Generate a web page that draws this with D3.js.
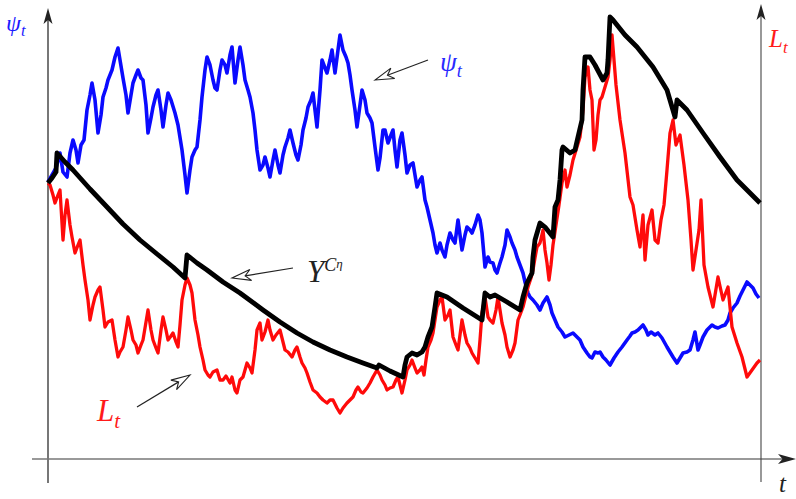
<!DOCTYPE html>
<html>
<head>
    <meta charset="utf-8">
    <title>psi-L-Y paths</title>
    <script type="text/javascript" src="https://cdn.jsdelivr.net/npm/d3@7"></script>
    <style type="text/css">
        body { margin: 0; background: #fff; }
        svg { display: block; }
        text { font-family: "Liberation Serif", "DejaVu Serif", serif; font-style: italic; }
    </style>
</head>
<body>
<div id="app"></div>

<script type="text/javascript">
    // time runs 0..713 along the bottom, level is height above the t-axis
    const psiPath = [[0,277],[4,284],[8,291],[12,306],[15,287],[19,282],[22,306],[25,319],[28,309],[30,296],[33,314],[36,319],[39,349],[42,364],[44,376],[47,359],[50,326],[53,344],[55,362],[58,371],[60,379],[64,389],[67,402],[70,411],[72,399],[75,381],[78,364],[80,346],[83,364],[85,376],[88,384],[90,389],[93,381],[95,379],[98,354],[100,326],[103,341],[105,352],[108,364],[110,369],[113,349],[115,332],[118,354],[120,366],[123,359],[127,346],[130,334],[134,309],[137,284],[139,266],[142,289],[144,302],[147,309],[149,312],[152,339],[154,362],[157,389],[159,402],[162,394],[165,379],[167,371],[169,369],[172,389],[174,399],[177,394],[179,386],[182,404],[184,412],[187,376],[190,399],[192,412],[195,394],[197,379],[200,369],[202,362],[205,346],[207,329],[209,309],[212,289],[215,294],[217,302],[220,291],[222,282],[225,299],[227,309],[230,294],[232,286],[235,304],[237,312],[240,321],[242,329],[245,316],[248,304],[250,299],[253,314],[255,329],[258,341],[260,352],[263,359],[265,366],[267,349],[269,332],[272,369],[274,399],[277,391],[279,386],[282,399],[284,409],[287,386],[290,409],[292,424],[295,409],[298,402],[300,396],[302,384],[304,369],[307,349],[309,332],[312,354],[314,369],[317,359],[319,346],[322,341],[324,336],[327,312],[330,289],[332,301],[335,329],[337,329],[340,316],[343,324],[345,329],[347,309],[349,292],[352,319],[354,326],[357,304],[359,286],[362,294],[365,296],[367,284],[369,272],[372,279],[374,282],[377,259],[379,252],[382,239],[385,226],[387,214],[389,206],[392,216],[394,209],[397,202],[399,214],[402,226],[405,219],[407,216],[410,239],[412,224],[414,209],[417,224],[419,232],[422,229],[424,226],[427,234],[430,244],[432,239],[434,226],[437,192],[440,202],[442,197],[445,196],[447,189],[449,186],[452,196],[454,202],[457,214],[459,229],[462,222],[464,216],[467,209],[469,202],[472,194],[475,186],[477,177],[480,166],[482,162],[485,159],[489,154],[492,149],[495,156],[499,162],[502,154],[504,146],[507,139],[510,132],[514,127],[517,122],[521,124],[525,126],[529,122],[532,119],[535,112],[539,106],[542,102],[544,101],[547,107],[550,106],[552,107],[555,102],[558,99],[562,94],[566,101],[570,107],[574,112],[579,119],[582,123],[584,126],[587,127],[590,129],[593,132],[595,134],[598,129],[600,124],[603,127],[607,124],[610,126],[614,121],[619,112],[622,107],[625,102],[629,96],[632,101],[635,106],[639,107],[642,109],[645,119],[647,127],[650,109],[652,114],[655,122],[659,129],[664,134],[667,132],[670,131],[674,133],[677,134],[680,139],[682,146],[685,151],[689,156],[692,163],[696,171],[699,177],[702,174],[705,171],[708,165],[711,161]];

    const lPath = [[0,276],[2,274],[5,264],[7,256],[10,264],[12,269],[15,219],[17,244],[19,259],[22,234],[24,222],[27,206],[30,214],[32,219],[35,194],[37,179],[40,159],[42,139],[45,154],[47,162],[50,169],[52,172],[55,149],[57,132],[60,137],[64,139],[67,119],[70,102],[72,107],[75,112],[78,129],[80,142],[83,129],[85,119],[88,114],[90,106],[93,114],[95,119],[98,137],[100,149],[103,129],[105,119],[108,111],[110,106],[113,129],[115,142],[118,129],[120,119],[123,123],[125,126],[128,117],[130,112],[132,134],[134,159],[137,174],[139,181],[142,174],[144,166],[147,139],[150,124],[152,112],[155,99],[157,89],[160,84],[162,82],[165,87],[169,89],[172,79],[175,79],[178,83],[182,76],[184,82],[187,69],[189,66],[192,79],[195,82],[199,96],[202,91],[204,86],[207,109],[209,129],[212,136],[214,119],[217,127],[220,139],[222,129],[225,119],[228,124],[232,129],[235,117],[237,109],[240,107],[244,102],[247,109],[249,112],[252,102],[254,96],[257,91],[259,86],[262,77],[265,69],[269,66],[272,62],[275,59],[279,56],[282,59],[285,59],[289,51],[292,46],[295,51],[299,56],[302,59],[305,62],[308,69],[310,72],[313,67],[315,66],[319,71],[322,76],[325,82],[329,89],[332,84],[334,79],[337,74],[339,69],[342,71],[345,72],[348,79],[350,82],[352,74],[354,66],[357,79],[359,89],[362,94],[364,99],[367,91],[369,86],[372,89],[374,92],[376,84],[378,99],[380,112],[383,119],[385,126],[387,139],[389,152],[392,159],[394,162],[397,139],[400,144],[402,149],[405,122],[408,114],[410,109],[412,124],[414,139],[417,124],[419,116],[422,111],[424,106],[427,101],[430,96],[432,119],[434,146],[437,162],[440,142],[442,139],[445,136],[448,149],[450,162],[452,149],[454,136],[457,124],[459,112],[462,102],[465,109],[467,116],[470,139],[472,144],[475,152],[478,164],[480,172],[483,181],[485,189],[487,201],[489,212],[492,216],[495,229],[497,209],[499,196],[501,179],[503,194],[505,214],[508,234],[511,254],[514,276],[517,289],[519,272],[522,284],[525,299],[529,312],[532,322],[535,349],[537,382],[540,392],[542,369],[544,359],[546,309],[548,319],[550,344],[552,359],[554,362],[557,372],[560,382],[562,399],[564,424],[566,399],[568,374],[572,339],[577,306],[582,262],[585,254],[589,229],[592,212],[595,244],[597,199],[600,234],[604,249],[607,219],[610,216],[613,239],[616,254],[619,289],[622,326],[625,339],[628,314],[632,324],[636,294],[640,259],[643,219],[645,189],[648,209],[651,229],[653,259],[656,194],[660,172],[665,152],[670,182],[675,159],[680,172],[684,132],[689,116],[694,102],[699,82],[704,89],[709,96],[712,99]];

    const yPath = [[0,276],[4,281],[6,284],[8,287],[9,306],[17,297],[25,289],[42,270],[59,252],[75,235],[92,219],[109,205],[125,192],[137,181],[139,204],[149,196],[159,189],[175,177],[192,166],[215,149],[232,137],[249,126],[265,117],[282,109],[299,102],[315,96],[329,91],[331,94],[342,88],[355,82],[357,94],[359,102],[364,106],[369,104],[374,107],[377,112],[380,122],[384,132],[387,152],[389,166],[399,162],[415,151],[434,139],[437,166],[442,162],[447,164],[459,157],[472,149],[475,162],[479,176],[484,186],[485,202],[487,219],[492,236],[497,232],[505,222],[507,252],[510,259],[512,279],[514,309],[515,312],[522,306],[527,309],[530,322],[534,339],[535,369],[537,402],[542,402],[547,394],[555,379],[559,386],[560,399],[562,442],[565,439],[577,424],[589,412],[605,392],[619,369],[627,342],[629,359],[639,349],[655,326],[672,302],[689,279],[712,256]];

    // annotation labels: [tail t, tail v, tip t, tip v]
    const psiNote = [380, 399, 327, 379];
    const yNote = [245, 191, 184, 181];
    const lNote = [89, 52, 142, 84];

    const w = 796, h = 499;
    const svg = d3.select('#app').append('svg').attr('width', w).attr('height', h);

    const x = d3.scaleLinear().domain([0, 713]).range([48, 761]);
    const y = d3.scaleLinear().domain([0, 459]).range([459, 0]);

    const axisColor = '#777';

    // axes as plain lines with latex-ish filled heads
    function head(px, py, angle, len, half, color) {
        svg.append('path')
            .attr('d', 'M0,0 L' + (-len) + ',' + (-half) + ' L' + (-len * 0.75) + ',0 L' + (-len) + ',' + half + ' Z')
            .attr('transform', 'translate(' + px + ',' + py + ') rotate(' + angle + ')')
            .attr('fill', color);
    }

    svg.append('line')
        .attr('x1', 32).attr('x2', 790).attr('y1', y(0)).attr('y2', y(0))
        .attr('stroke', axisColor).attr('stroke-width', 1.6);
    head(796, y(0), 0, 18, 5, '#222');

    svg.append('line')
        .attr('x1', x(0)).attr('x2', x(0)).attr('y1', 483).attr('y2', 14)
        .attr('stroke', axisColor).attr('stroke-width', 2);
    head(x(0), 8, -90, 16, 4.5, '#222');

    svg.append('line')
        .attr('x1', x(713)).attr('x2', x(713)).attr('y1', 482).attr('y2', 10)
        .attr('stroke', '#444').attr('stroke-width', 1.1);
    head(x(713), 4, -90, 16, 4.5, '#222');

    const line = d3.line().x(d => x(d[0])).y(d => y(d[1]));

    svg.append('path').datum(psiPath).attr('d', line)
        .attr('fill', 'none').attr('stroke', '#0a0aff').attr('stroke-width', 3.6).attr('stroke-linejoin', 'round');
    svg.append('path').datum(lPath).attr('d', line)
        .attr('fill', 'none').attr('stroke', '#ff0a0a').attr('stroke-width', 3.3).attr('stroke-linejoin', 'round');
    svg.append('path').datum(yPath).attr('d', line)
        .attr('fill', 'none').attr('stroke', '#000').attr('stroke-width', 4.8).attr('stroke-linejoin', 'round');

    // hollow annotation arrows
    function note(n) {
        const x1 = x(n[0]), y1 = y(n[1]), x2 = x(n[2]), y2 = y(n[3]);
        const ang = Math.atan2(y2 - y1, x2 - x1);
        const len = 19;
        svg.append('line')
            .attr('x1', x1).attr('y1', y1)
            .attr('x2', x2 - Math.cos(ang) * len * 0.7).attr('y2', y2 - Math.sin(ang) * len * 0.7)
            .attr('stroke', '#222').attr('stroke-width', 1.2);
        svg.append('path')
            .attr('d', 'M0,0 L' + (-len) + ',-5.5 L' + (-len * 0.7) + ',0 L' + (-len) + ',5.5 Z')
            .attr('transform', 'translate(' + x2 + ',' + y2 + ') rotate(' + (ang * 180 / Math.PI) + ')')
            .attr('fill', '#fff').attr('stroke', '#222').attr('stroke-width', 1.1);
    }
    note(psiNote);
    note(yNote);
    note(lNote);

    // labels
    function sub(px, py, main, s, size, color) {
        const t = svg.append('text').attr('x', px).attr('y', py).attr('fill', color).style('font-size', size + 'px');
        t.append('tspan').text(main);
        t.append('tspan').attr('dy', size * 0.22).style('font-size', (size * 0.68) + 'px').text(s);
        return t;
    }

    sub(6, 31, 'ψ', 't', 24, '#1a1aff');
    sub(769, 47, 'L', 't', 25, '#ff1a1a');
    svg.append('text').attr('x', 779).attr('y', 492).attr('fill', '#222').style('font-size', '25px').text('t');

    sub(x(392), y(388), 'ψ', 't', 27, '#2a2aff');
    sub(x(49), y(38), 'L', 't', 31, '#ff1a1a');

    const yl = svg.append('text').attr('x', x(259)).attr('y', y(177)).attr('fill', '#222').style('font-size', '31px');
    yl.append('tspan').text('Y');
    yl.append('tspan').attr('dy', -11).style('font-size', '18px').text('C');
    yl.append('tspan').attr('dy', -3).style('font-size', '13px').text('η');
</script>
</body>
</html>
